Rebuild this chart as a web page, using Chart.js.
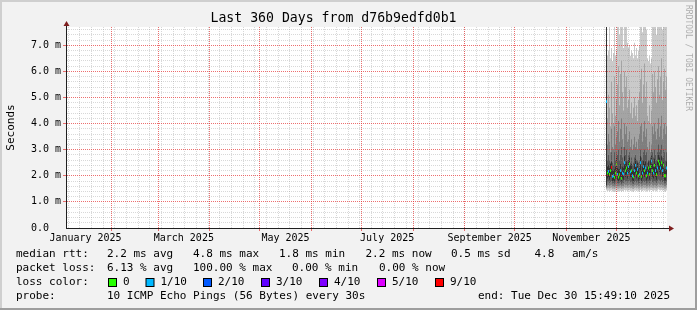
<!doctype html>
<html>
<head>
<meta charset="utf-8">
<script src="https://cdn.jsdelivr.net/npm/chart.js@4"></script>
<style>
  html, body { margin: 0; padding: 0; background: #f2f2f2; overflow: hidden; }
  canvas { display: block; }
</style>
</head>
<body>
<canvas id="canvas" width="697" height="310"></canvas>
<script>
// time is in days since 2025-01-01 00:00
const rangeStart = 4.4;
const rangeEnd = 364.4;
const firstSample = 328.1;   // centre of first consolidated sample
const stepDays = 0.6;        // one RRA row

const monthNames = ['January', 'February', 'March', 'April', 'May', 'June', 'July',
  'August', 'September', 'October', 'November', 'December'];
const monthStarts = [0, 31, 59, 90, 120, 151, 181, 212, 243, 273, 304, 334, 365];
const labelMonths = [0, 2, 4, 6, 8, 10];

// sorted ping rtt per sample (ms), rank 1 = fastest .. rank 10 = slowest
const rtt1 = [1.45, 1.42, 1.44, 1.40, 1.43, 1.45, 1.40, 1.41, 1.38, 1.42,
  1.45, 1.41, 1.40, 1.42, 1.43, 1.39, 1.42, 1.41, 1.46, 1.43,
  1.45, 1.42, 1.44, 1.45, 1.42, 1.43, 1.40, 1.39, 1.43, 1.45,
  1.42, 1.44, 1.40, 1.41, 1.46, 1.40, 1.42, 1.45, 1.43, 1.44,
  1.40, 1.42, 1.45, 1.41, 1.45, 1.47, 1.43, 1.42, 1.45, 1.43,
  1.41, 1.44, 1.48, 1.45, 1.44, 1.46, 1.43, 1.45, 1.40, 1.40, 1.44];
const rtt2 = [1.50, 1.52, 1.54, 1.51, 1.53, 1.55, 1.50, 1.51, 1.49, 1.52,
  1.55, 1.51, 1.50, 1.52, 1.53, 1.49, 1.52, 1.51, 1.56, 1.53,
  1.55, 1.52, 1.54, 1.55, 1.52, 1.53, 1.50, 1.49, 1.53, 1.55,
  1.52, 1.54, 1.50, 1.51, 1.56, 1.50, 1.52, 1.55, 1.53, 1.54,
  1.50, 1.52, 1.55, 1.51, 1.55, 1.57, 1.53, 1.52, 1.55, 1.53,
  1.51, 1.54, 1.58, 1.55, 1.54, 1.56, 1.53, 1.55, 1.50, 1.50, 1.54];
const rtt3 = [1.55, 1.63, 1.65, 1.61, 1.64, 1.66, 1.60, 1.61, 1.58, 1.62,
  1.67, 1.61, 1.60, 1.62, 1.64, 1.59, 1.62, 1.61, 1.68, 1.64,
  1.66, 1.62, 1.65, 1.67, 1.63, 1.64, 1.60, 1.59, 1.64, 1.66,
  1.62, 1.65, 1.60, 1.61, 1.68, 1.60, 1.62, 1.66, 1.64, 1.65,
  1.60, 1.62, 1.66, 1.61, 1.66, 1.69, 1.64, 1.62, 1.66, 1.64,
  1.61, 1.65, 1.70, 1.67, 1.65, 1.68, 1.64, 1.66, 1.60, 1.60, 1.65];
const rtt4 = [1.60, 1.75, 1.78, 1.72, 1.76, 1.80, 1.70, 1.72, 1.68, 1.74,
  1.82, 1.72, 1.70, 1.73, 1.76, 1.68, 1.74, 1.72, 1.84, 1.76,
  1.80, 1.74, 1.78, 1.82, 1.75, 1.76, 1.70, 1.69, 1.76, 1.80,
  1.74, 1.78, 1.70, 1.72, 1.83, 1.70, 1.74, 1.80, 1.76, 1.79,
  1.70, 1.74, 1.79, 1.72, 1.80, 1.85, 1.76, 1.74, 1.80, 1.76,
  1.72, 1.79, 1.86, 1.82, 1.78, 1.84, 1.76, 1.80, 1.70, 1.71, 1.78];
const rtt5 = [1.65, 1.90, 1.95, 1.85, 1.95, 2.05, 1.80, 1.82, 1.78, 1.90,
  2.15, 1.85, 1.80, 1.85, 1.95, 1.75, 1.90, 1.85, 2.20, 1.95,
  2.05, 1.90, 2.10, 2.15, 1.95, 1.95, 1.82, 1.80, 1.95, 2.10,
  1.90, 2.00, 1.82, 1.85, 2.20, 1.80, 1.90, 2.10, 1.95, 2.05,
  1.82, 1.90, 2.05, 1.85, 2.10, 2.25, 1.95, 1.90, 2.10, 1.95,
  1.85, 2.05, 2.25, 2.15, 2.05, 2.20, 1.95, 2.10, 1.82, 1.82, 2.05];
const rtt6 = [7.70, 2.35, 2.40, 2.30, 2.45, 2.55, 2.20, 2.20, 2.25, 2.35,
  2.70, 2.30, 2.25, 2.25, 2.45, 2.15, 2.35, 2.30, 2.75, 2.45,
  2.55, 2.35, 2.60, 2.70, 2.40, 2.45, 2.20, 2.20, 2.45, 2.65,
  2.35, 2.50, 2.25, 2.30, 2.75, 2.20, 2.35, 2.60, 2.45, 2.55,
  2.25, 2.35, 2.55, 2.30, 2.60, 2.80, 2.45, 2.35, 2.65, 2.45,
  2.30, 2.55, 2.80, 2.70, 2.55, 2.75, 2.45, 2.65, 2.25, 2.25, 2.55];
const rtt7 = [7.70, 2.6, 2.8, 2.6, 2.5, 2.9, 2.5, 2.4, 2.9, 2.6,
  2.9, 2.8, 3.0, 2.6, 2.8, 3.1, 2.7, 2.5, 3.1, 2.8,
  3.0, 2.6, 2.8, 2.9, 2.5, 2.7, 2.4, 2.5, 2.7, 2.8,
  2.6, 2.6, 2.5, 2.6, 3.0, 2.7, 2.6, 2.9, 3.0, 2.8,
  2.9, 2.5, 2.6, 2.6, 2.7, 3.0, 2.9, 2.7, 3.0, 2.8,
  2.6, 2.9, 3.2, 2.9, 3.0, 3.2, 2.7, 3.0, 2.9, 2.6, 2.9];
const rtt8 = [7.70, 3.2, 3.6, 3.3, 2.9, 3.8, 3.1, 3.0, 3.9, 3.2,
  3.5, 3.7, 4.1, 3.3, 3.8, 4.2, 3.4, 3.1, 4.0, 3.6,
  3.9, 3.3, 3.4, 3.7, 3.1, 3.4, 3.0, 3.2, 3.5, 3.1,
  3.3, 3.0, 3.4, 3.6, 3.9, 4.0, 3.3, 3.7, 4.1, 3.5,
  3.8, 3.1, 3.0, 3.3, 2.9, 3.2, 3.9, 3.6, 4.0, 3.7,
  3.4, 3.8, 4.2, 3.5, 3.9, 4.3, 3.4, 3.8, 4.0, 3.6, 3.9];
const rtt9 = [7.70, 4.2, 5.1, 4.6, 3.9, 5.6, 4.4, 4.0, 5.8, 4.3,
  4.9, 5.5, 6.2, 4.7, 5.9, 6.4, 5.2, 4.5, 6.0, 5.4,
  5.8, 4.6, 4.9, 5.3, 4.4, 4.8, 4.2, 4.6, 5.0, 4.3,
  4.7, 4.1, 4.9, 5.2, 5.7, 6.1, 4.8, 5.5, 6.3, 5.0,
  5.6, 4.3, 4.1, 4.7, 4.0, 4.5, 5.9, 5.2, 6.0, 5.4,
  4.8, 5.7, 6.2, 5.1, 5.8, 6.5, 4.9, 5.6, 6.1, 5.3, 5.8];
const rtt10 = [7.7, 6.6, 6.8, 7.7, 6.5, 6.9, 6.4, 6.7, 7.7, 6.6,
  6.8, 7.7, 7.7, 7.4, 7.7, 7.7, 7.7, 6.9, 7.7, 7.7,
  7.7, 7.1, 6.9, 7.0, 6.6, 6.8, 6.7, 6.5, 7.1, 6.6,
  6.9, 6.5, 6.8, 7.0, 7.7, 7.7, 7.5, 7.7, 7.7, 7.7,
  7.6, 6.5, 6.4, 6.6, 6.3, 6.5, 7.7, 7.7, 7.7, 7.7,
  7.4, 7.7, 7.7, 7.7, 7.7, 7.7, 7.6, 7.7, 7.7, 7.7, 7.7];

// median rtt (ms) and lost pings out of 10
const medianRtt = [4.84, 2.10, 2.17, 2.05, 2.20, 2.32, 1.98, 2.00, 1.94, 2.10,
  2.45, 2.05, 1.95, 2.04, 2.20, 1.90, 2.10, 2.06, 2.50, 2.20,
  2.30, 2.10, 2.35, 2.45, 2.15, 2.20, 2.00, 1.96, 2.20, 2.40,
  2.10, 2.25, 2.00, 2.06, 2.50, 1.98, 2.10, 2.35, 2.20, 2.30,
  2.00, 2.10, 2.30, 2.05, 2.35, 2.56, 2.20, 2.10, 2.40, 2.20,
  2.05, 2.30, 2.56, 2.45, 2.30, 2.50, 2.20, 2.40, 2.00, 2.00, 2.30];
const lostPings = [1, 0, 1, 0, 0, 9, 1, 1, 0, 0,
  0, 1, 0, 0, 1, 0, 1, 1, 1, 0,
  0, 1, 1, 0, 1, 0, 1, 0, 1, 1,
  0, 1, 0, 1, 1, 0, 1, 1, 0, 1,
  0, 1, 0, 0, 0, 1, 0, 1, 0, 1,
  0, 1, 0, 0, 1, 0, 1, 0, 0, 0, 1];

const lossColors = { 0: '#26ff00', 1: '#00b8ff', 2: '#0059ff', 3: '#5e00ff', 4: '#7e00ff', 5: '#dd00ff', 9: '#ff0000' };
const lossLegend = [[0, '0'], [1, '1/10'], [2, '2/10'], [3, '3/10'], [4, '4/10'], [5, '5/10'], [9, '9/10']];

const titleText = 'Last 360 Days from d76b9edfd0b1';
const rttStats = [[16, 'median rtt:'], [107, '2.2 ms avg'], [193, '4.8 ms max'], [279, '1.8 ms min'],
  [365.5, '2.2 ms now'], [451, '0.5 ms sd'], [534.5, '4.8'], [572, 'am/s']];
const lossStats = [[16, 'packet loss:'], [107, '6.13 % avg'], [193, '100.00 % max'],
  [292, '0.00 % min'], [379, '0.00 % now']];
const probeLine = [[16, 'probe:'], [107, '10 ICMP Echo Pings (56 Bytes) every 30s'],
  [478, 'end: Tue Dec 30 15:49:10 2025']];

const mono = '"DejaVu Sans Mono", monospace';
const minorGrid = 'rgba(143,143,143,0.35)';
const majorGrid = 'rgba(230,50,50,0.7)';
const smokeGreys = ['#cacaca', '#a4a4a4', '#7e7e7e', '#585858', '#323232'];
const ranks = [rtt1, rtt2, rtt3, rtt4, rtt5, rtt6, rtt7, rtt8, rtt9, rtt10];

const sampleX = (i) => firstSample + i * stepDays;
const barCommon = { grouped: false, barThickness: 1, inflateAmount: 0, borderWidth: 0, borderSkipped: false };

const datasets = [{
  label: 'median',
  data: medianRtt.map((m, i) => ({ x: sampleX(i), y: [m - 0.055, m + 0.055] })),
  backgroundColor: (c) => lossColors[lostPings[c.dataIndex]],
  ...barCommon,
}];
for (let k = 4; k >= 0; k--) {
  const lo = ranks[k], hi = ranks[9 - k];
  datasets.push({
    label: 'smoke' + k,
    data: lo.map((v, i) => ({ x: sampleX(i), y: [v, hi[i]] })),
    backgroundColor: smokeGreys[k],
    ...barCommon,
  });
}

const frame = {
  id: 'frame',
  beforeDraw(chart) {
    const { ctx, chartArea: a } = chart;
    ctx.save();
    ctx.fillStyle = '#f2f2f2';
    ctx.fillRect(0, 0, 697, 310);
    ctx.fillStyle = '#cfcfcf';
    ctx.fillRect(0, 0, 697, 2);
    ctx.fillRect(0, 0, 2, 310);
    ctx.fillStyle = '#9e9e9e';
    ctx.fillRect(0, 308, 697, 2);
    ctx.fillRect(695, 0, 2, 310);
    ctx.fillStyle = '#ffffff';
    ctx.fillRect(a.left, a.top, a.right - a.left, a.bottom - a.top);
    ctx.restore();
  },
  afterDraw(chart) {
    const { ctx, chartArea: a, scales } = chart;
    ctx.save();
    // axes + arrows
    ctx.fillStyle = '#1f1f1f';
    ctx.fillRect(a.left - 1, a.bottom, a.right - a.left + 4, 1);
    ctx.fillRect(a.left - 1, a.top - 2, 1, a.bottom - a.top + 3);
    ctx.fillStyle = '#7f1f1f';
    ctx.beginPath();
    ctx.moveTo(a.right + 2, a.bottom - 2.5);
    ctx.lineTo(a.right + 7, a.bottom + 0.5);
    ctx.lineTo(a.right + 2, a.bottom + 3.5);
    ctx.fill();
    ctx.beginPath();
    ctx.moveTo(a.left - 3.5, a.top - 1);
    ctx.lineTo(a.left - 0.5, a.top - 6);
    ctx.lineTo(a.left + 2.5, a.top - 1);
    ctx.fill();
    // small ticks at major lines
    ctx.fillStyle = majorGrid;
    monthStarts.forEach((d) => {
      if (d > rangeStart && d < rangeEnd) {
        const px = Math.round(scales.x.getPixelForValue(d) - 0.5);
        ctx.fillRect(px, a.bottom + 1, 1, 2);
      }
    });
    for (let v = 1; v <= 7; v++) {
      const py = Math.round(scales.y.getPixelForValue(v) - 0.5);
      ctx.fillRect(a.left - 4, py, 3, 1);
    }
    // legend
    ctx.fillStyle = '#000';
    ctx.font = '11px ' + mono;
    ctx.textBaseline = 'middle';
    rttStats.forEach(([x, t]) => ctx.fillText(t, x, 254.5));
    lossStats.forEach(([x, t]) => ctx.fillText(t, x, 268.5));
    ctx.fillText('loss color:', 16, 282.5);
    lossLegend.forEach(([n, t], i) => {
      const bx = [108, 145.5, 203, 261, 319, 377, 435][i];
      ctx.fillStyle = '#000';
      ctx.fillRect(bx, 278, 9, 9);
      ctx.fillStyle = lossColors[n];
      ctx.fillRect(bx + 1, 279, 7, 7);
      ctx.fillStyle = '#000';
      ctx.fillText(t, bx + 15, 282.5);
    });
    probeLine.forEach(([x, t]) => ctx.fillText(t, x, 296.5));
    // watermark
    ctx.translate(688.5, 5);
    ctx.rotate(Math.PI / 2);
    ctx.font = '8px ' + mono;
    ctx.fillStyle = 'rgba(0,0,0,0.3)';
    ctx.textBaseline = 'middle';
    ctx.fillText('RRDTOOL / TOBI OETIKER', 0, 0);
    ctx.restore();
  },
};

new Chart(document.getElementById('canvas').getContext('2d'), {
  type: 'bar',
  data: { datasets },
  options: {
    responsive: false,
    animation: false,
    events: [],
    layout: { padding: { left: 0, right: 30, top: 0, bottom: 0 } },
    plugins: {
      legend: { display: false },
      tooltip: { enabled: false },
      title: {
        display: true,
        text: titleText,
        color: '#000',
        font: { family: mono, size: 13.2, weight: 'normal', lineHeight: 1.1 },
        padding: { top: 11.3, bottom: 1.18 },
      },
    },
    scales: {
      x: {
        type: 'linear',
        min: rangeStart,
        max: rangeEnd,
        offset: false,
        afterBuildTicks(scale) {
          const t = [];
          for (let d = 5; d < rangeEnd; d += 7) {
            if (d > rangeStart) t.push({ value: d, kind: 'week' });
          }
          for (let m = 0; m < 12; m++) {
            const s = monthStarts[m];
            if (s > rangeStart && s < rangeEnd) t.push({ value: s, kind: 'month' });
          }
          labelMonths.forEach((m) => {
            t.push({ value: (monthStarts[m] + monthStarts[m + 1]) / 2, kind: 'label', text: monthNames[m] + ' 2025' });
          });
          scale.ticks = t;
        },
        afterFit(scale) { scale.height = 82; },
        ticks: {
          autoSkip: false,
          maxRotation: 0,
          padding: 4,
          color: '#000',
          font: { family: mono, size: 10 },
          callback: (v, i, ticks) => ticks[i].text || '',
        },
        grid: {
          offset: false,
          drawTicks: false,
          z: 1,
          lineWidth: 1,
          color: (c) => {
            const k = c.tick && c.tick.kind;
            return k === 'month' ? majorGrid : k === 'week' ? minorGrid : 'rgba(0,0,0,0)';
          },
        },
        border: { display: false, dash: [1, 1] },
      },
      y: {
        min: 0,
        max: 7.7,
        afterBuildTicks(scale) {
          const t = [];
          for (let i = 0; i <= 38; i++) t.push({ value: i / 5, kind: i % 5 === 0 ? 'major' : 'minor' });
          scale.ticks = t;
        },
        afterFit(scale) { scale.width = 67; },
        ticks: {
          autoSkip: false,
          padding: 6,
          color: '#000',
          font: { family: mono, size: 10 },
          callback: (v, i, ticks) => {
            if (ticks[i].kind !== 'major') return '';
            const n = Math.round(v);
            return n === 0 ? '0.0  ' : n.toFixed(1) + ' m';
          },
        },
        grid: {
          drawTicks: false,
          z: 1,
          lineWidth: 1,
          color: (c) => {
            if (!c.tick) return 'rgba(0,0,0,0)';
            if (c.tick.value === 0) return 'rgba(0,0,0,0)';
            return c.tick.kind === 'major' ? majorGrid : minorGrid;
          },
        },
        border: { display: false, dash: [1, 1] },
        title: {
          display: true,
          text: 'Seconds',
          color: '#000',
          font: { family: mono, size: 11 },
          padding: { top: 4.5, bottom: 0 },
        },
      },
    },
  },
  plugins: [frame],
});
</script>
</body>
</html>
